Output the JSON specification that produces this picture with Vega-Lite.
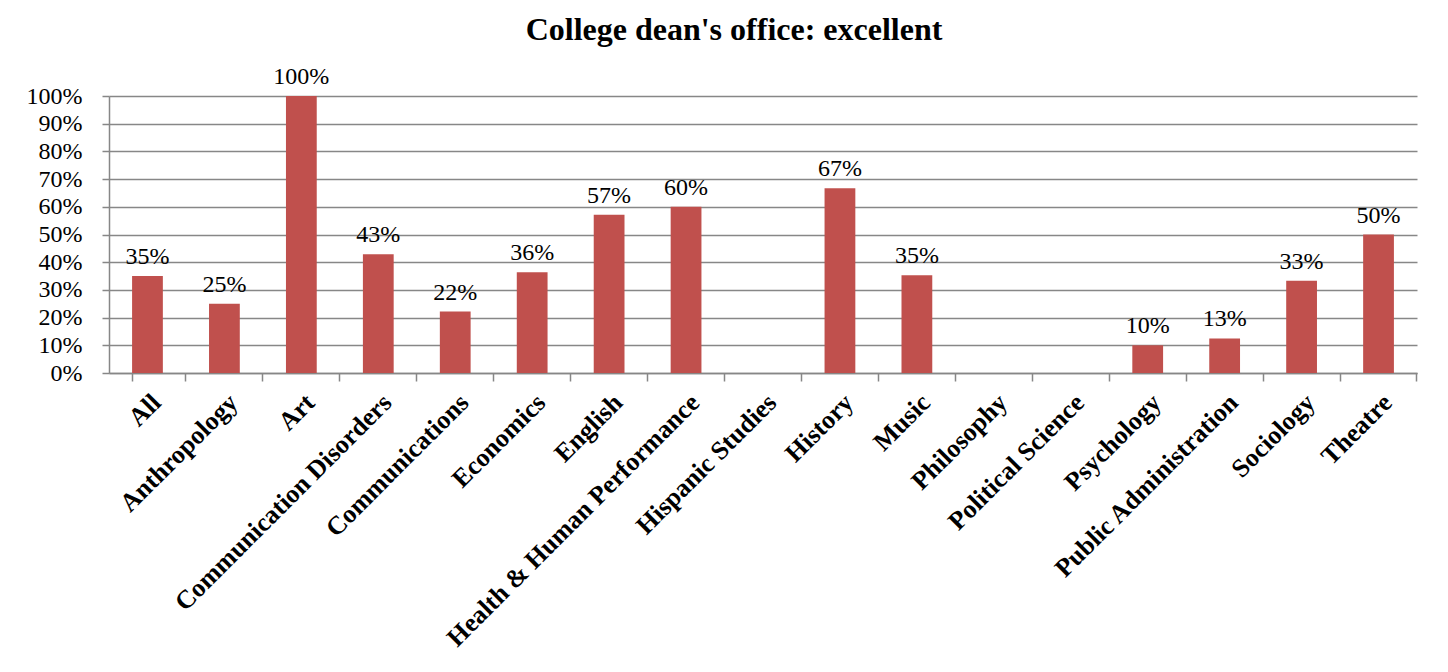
{
  "$schema": "https://vega.github.io/schema/vega-lite/v6.json",
  "autosize": "none",
  "width": 1308,
  "height": 277,
  "padding": {"left": 109, "top": 96, "right": 31, "bottom": 299},
  "background": "white",
  "title": {
    "text": "College dean's office: excellent",
    "font": "Liberation Serif",
    "fontSize": 32,
    "fontWeight": "bold",
    "color": "black",
    "anchor": "middle",
    "frame": "group",
    "baseline": "alphabetic",
    "offset": -7,
    "dx": -29
  },
  "config": {
    "view": {"stroke": null},
    "axis": {
      "labelFont": "Liberation Serif",
      "labelColor": "black",
      "domainColor": "#878787",
      "tickColor": "#878787",
      "gridColor": "#878787",
      "domainWidth": 1.5,
      "tickWidth": 1.5,
      "gridWidth": 1.5
    }
  },
  "data": {
    "values": [
      {"dept": "All", "value": 0.35},
      {"dept": "Anthropology", "value": 0.25},
      {"dept": "Art", "value": 1.0},
      {"dept": "Communication Disorders", "value": 0.429},
      {"dept": "Communications", "value": 0.222},
      {"dept": "Economics", "value": 0.364},
      {"dept": "English", "value": 0.571},
      {"dept": "Health & Human Performance", "value": 0.6},
      {"dept": "Hispanic Studies", "value": 0},
      {"dept": "History", "value": 0.667},
      {"dept": "Music", "value": 0.353},
      {"dept": "Philosophy", "value": 0},
      {"dept": "Political Science", "value": 0},
      {"dept": "Psychology", "value": 0.1},
      {"dept": "Public Administration", "value": 0.125},
      {"dept": "Sociology", "value": 0.333},
      {"dept": "Theatre", "value": 0.5}
    ]
  },
  "encoding": {
    "x": {
      "field": "dept",
      "type": "nominal",
      "sort": null,
      "scale": {"paddingInner": 0.6, "paddingOuter": 0.3},
      "axis": {
        "title": null,
        "labelAngle": -45,
        "labelFontSize": 26,
        "labelFontWeight": "bold",
        "labelPadding": 8,
        "tickSize": 8,
        "bandPosition": 1.75,
        "tickExtra": true,
        "labelLimit": 0
      }
    },
    "y": {
      "field": "value",
      "type": "quantitative",
      "scale": {"domain": [0, 1], "nice": false},
      "axis": {
        "title": null,
        "values": [0, 0.1, 0.2, 0.3, 0.4, 0.5, 0.6, 0.7, 0.8, 0.9, 1.0],
        "format": ".0%",
        "labelFontSize": 24,
        "tickSize": 7,
        "labelPadding": 20,
        "grid": true
      }
    }
  },
  "layer": [
    {"mark": {"type": "bar", "color": "#C0504D"}},
    {
      "transform": [{"filter": "datum.value > 0"}],
      "mark": {
        "type": "text",
        "font": "Liberation Serif",
        "fontSize": 24,
        "color": "black",
        "baseline": "alphabetic",
        "dy": -12
      },
      "encoding": {
        "text": {"field": "value", "type": "quantitative", "format": ".0%"}
      }
    }
  ]
}
